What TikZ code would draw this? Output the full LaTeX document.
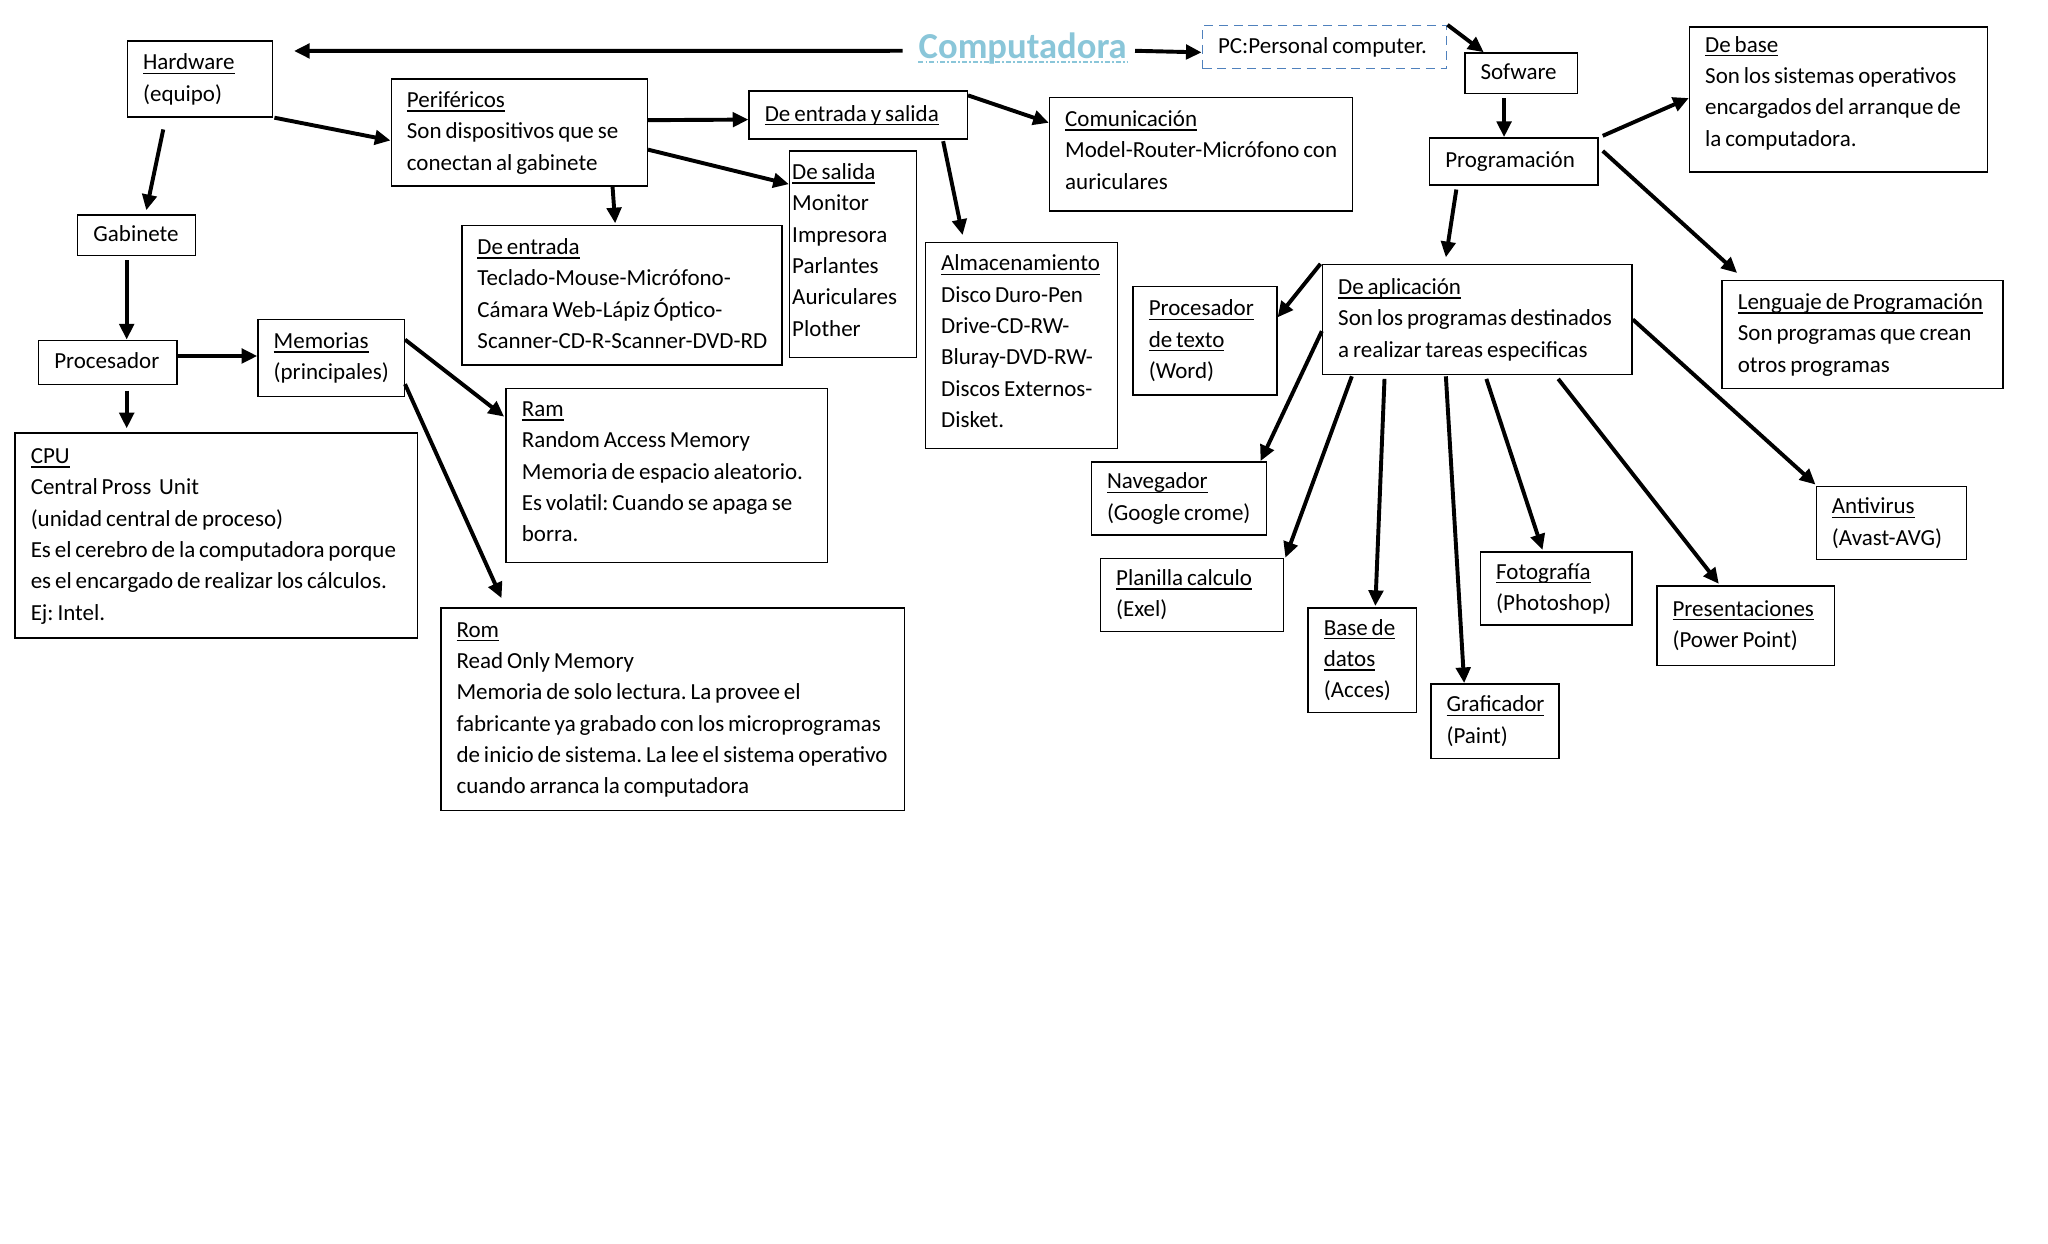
\documentclass[tikz,border=0pt]{standalone}
\usepackage{fontspec}
\setmainfont{Carlito}
\usetikzlibrary{arrows.meta}
\newcommand\UL[1]{\setbox0\hbox{#1}\rlap{\rule[-1.6bp]{\wd0}{0.5bp}}\box0}
\newcommand\fs{\fontsize{8.8bp}{12bp}\selectfont}
\newcommand\Tbl[1]{{\frenchspacing\spaceskip=1.5bp\relax\xspaceskip=1.5bp\relax\begin{tabular}{@{}l@{}}#1\end{tabular}}}
\definecolor{cmpcol}{HTML}{8AC6D9}
\definecolor{pccol}{HTML}{4F81BD}
\begin{document}
\begin{tikzpicture}[x=0.5bp,y=-0.5bp,
  box/.style={draw, line width=0.55bp, anchor=north west, inner xsep=6bp, inner ysep=0pt, align=flush left, font=\fs},
  arr/.style={line width=1.5bp, -{Triangle[length=6bp,width=5.5bp]}}]
\fill[white] (0,0) rectangle (1568,952);
\useasboundingbox (0,0) rectangle (1568,952);

% title
\node[font=\bfseries\fontsize{14bp}{16bp}\selectfont, text=cmpcol, inner sep=0pt, anchor=base] (cmp) at (783,44.5) {Computadora};
\draw[cmpcol, line width=0.9bp, dash pattern=on 2bp off 0.8bp on 0.6bp off 0.8bp] ([yshift=-1.4bp]cmp.base west) -- ([yshift=-1.4bp]cmp.base east);
\node[box, draw=pccol, dash pattern=on 3.5bp off 2.2bp, line width=0.6bp, text width=81.5bp, minimum height=16.5bp] (pc) at (920,19) {\Tbl{PC:Personal computer.}};

% hardware side
\node[box, text width=43.5bp, minimum height=29bp] (hw) at (97,31) {\Tbl{\UL{Hardware}\\(equipo)}};
\node[box, text width=86bp, minimum height=41bp] (per) at (299,60) {\Tbl{\UL{Periféricos}\\Son dispositivos que se\\conectan al gabinete}};
\node[box, text width=71.5bp, minimum height=18.5bp] (des) at (573,69) {\Tbl{\UL{De entrada y salida}}};
\node[box, text width=104bp, minimum height=43.5bp] (com) at (803,74) {\Tbl{\UL{Comunicación}\\Model-Router-Micrófono con\\auriculares\\[2bp]}};
\node[box, inner xsep=1bp, text width=46.5bp, minimum height=79bp] (sal) at (604,115) {\Tbl{\UL{De salida}\\Monitor\\Impresora\\Parlantes\\Auriculares\\Plother\\[2bp]}};
\node[box, text width=110.5bp, minimum height=53.5bp] (ent) at (353,172) {\Tbl{\UL{De entrada}\\Teclado-Mouse-Micrófono-\\Cámara Web-Lápiz Óptico-\\Scanner-CD-R-Scanner-DVD-RD}};
\node[box, text width=61.5bp, minimum height=79bp] (alm) at (708,185) {\Tbl{\UL{Almacenamiento}\\Disco Duro-Pen\\Drive-CD-RW-\\Bluray-DVD-RW-\\Discos Externos-\\Disket.\\[2bp]}};
\node[box, text width=33bp, minimum height=15.5bp] (gab) at (59,164) {\Tbl{Gabinete}};
\node[box, text width=41bp, minimum height=17bp] (pro) at (29,260) {\Tbl{Procesador}};
\node[box, text width=44bp, minimum height=29.5bp] (mem) at (197,244) {\Tbl{\UL{Memorias}\\(principales)}};
\node[box, text width=142bp, minimum height=78.5bp] (cpu) at (11,331) {\Tbl{\UL{CPU}\\Central Pross\hspace{3bp}Unit\\(unidad central de proceso)\\Es el cerebro de la computadora porque\\es el encargado de realizar los cálculos.\\Ej: Intel.}};
\node[box, text width=111bp, minimum height=66.5bp] (ram) at (387,297) {\Tbl{\UL{Ram}\\Random Access Memory\\Memoria de espacio aleatorio.\\Es volatil: Cuando se apaga se\\borra.\\[2bp]}};
\node[box, text width=165.5bp, minimum height=77.5bp] (rom) at (337,465) {\Tbl{\UL{Rom}\\Read Only Memory\\Memoria de solo lectura. La provee el\\fabricante ya grabado con los microprogramas\\de inicio de sistema. La lee el sistema operativo\\cuando arranca la computadora}};

% software side
\node[box, text width=31bp, minimum height=15.5bp] (sof) at (1121,40) {\Tbl{Sofware}};
\node[box, text width=52.5bp, minimum height=18bp] (prog) at (1094,105) {\Tbl{Programación}};
\node[box, text width=102bp, minimum height=55.5bp] (base) at (1293,20) {\Tbl{\UL{De base}\\Son los sistemas operativos\\encargados del arranque de\\la computadora.\\[5bp]}};
\node[box, text width=106.5bp, minimum height=42bp] (apl) at (1012,202) {\Tbl{\UL{De aplicación}\\Son los programas destinados\\a realizar tareas especificas}};
\node[box, text width=95.5bp, minimum height=41.5bp] (len) at (1318,214) {\Tbl{\UL{Lenguaje de Programación}\\Son programas que crean\\otros programas}};
\node[box, text width=43bp, minimum height=41.5bp] (ptx) at (867,219) {\Tbl{\UL{Procesador}\\\UL{de texto}\\(Word)}};
\node[box, text width=55bp, minimum height=28bp] (nav) at (835,353) {\Tbl{\UL{Navegador}\\(Google crome)}};
\node[box, text width=58bp, minimum height=28bp] (pla) at (842,427) {\Tbl{\UL{Planilla calculo}\\(Exel)}};
\node[box, text width=29.5bp, minimum height=40bp] (bdd) at (1001,465) {\Tbl{\UL{Base de}\\\UL{datos}\\(Acces)}};
\node[box, text width=37bp, minimum height=28.5bp] (gra) at (1095,523) {\Tbl{\UL{Graficador}\\(Paint)}};
\node[box, text width=46bp, minimum height=28bp] (fot) at (1133,422) {\Tbl{\UL{Fotografía}\\(Photoshop)}};
\node[box, text width=56bp, minimum height=30.5bp] (prs) at (1268,448) {\Tbl{\UL{Presentaciones}\\(Power Point)}};
\node[box, text width=45.5bp, minimum height=28bp] (ant) at (1390,372) {\Tbl{\UL{Antivirus}\\(Avast-AVG)}};

% connectors
\draw[arr] ([shift={(-12,2)}]cmp.west) -- ([shift={(16,8)}]hw.north east);
\draw[arr] ([shift={(6,2)}]cmp.east) -- ([shift={(0,4)}]pc.west);
\draw[arr] (pc.north east) -- ([shift={(15,0)}]sof.north west);
\draw[arr] ([shift={(-13,3)}]sof.south) -- ([shift={(-13,0)}]sof.south |- prog.north);
\draw[arr] ([shift={(3,-1)}]prog.north east) -- ([shift={(0,-1)}]base.west);
\draw[arr] ([shift={(3,-8)}]prog.east) -- ([shift={(12,-5)}]len.north west);
\draw[arr] ([shift={(21,3)}]prog.south west) -- ([shift={(95,-5)}]apl.north west);
\draw[arr] ([shift={(-1,0)}]apl.north west) -- ([shift={(0,24)}]ptx.north east);
\draw[arr] ([shift={(0,9)}]apl.west) -- ([shift={(-5,0)}]nav.north east);
\draw[arr] ([shift={(23,1)}]apl.south west) -- ([shift={(1,0)}]pla.north east);
\draw[arr] ([shift={(48,3)}]apl.south west) -- ([shift={(52,-1)}]bdd.north west);
\draw[arr] ([shift={(95,1)}]apl.south west) -- ([shift={(26,0)}]gra.north west);
\draw[arr] ([shift={(126,3)}]apl.south west) -- ([shift={(48,-1)}]fot.north west);
\draw[arr] ([shift={(181,3)}]apl.south west) -- ([shift={(48,-1)}]prs.north west);
\draw[arr] (apl.east) -- ([shift={(0,-1)}]ant.north west);

\draw[arr] ([shift={(1,0)}]hw.south east) -- ([shift={(0,6)}]per.west);
\draw[arr] ([shift={(28,9)}]hw.south west) -- ([shift={(53,-3)}]gab.north west);
\draw[arr] ([shift={(38,3)}]gab.south west) -- ([shift={(68,0)}]pro.north west);
\draw[arr] ([shift={(0,-5)}]pro.east) -- ([shift={(0,-5)}]pro.east -| mem.west);
\draw[arr] ([shift={(68,4)}]pro.south west) -- ([shift={(86,-3)}]cpu.north west);
\draw[arr] ([shift={(0,16)}]mem.north east) -- ([shift={(-1,22)}]ram.north west);
\draw[arr] ([shift={(0,-10)}]mem.south east) -- ([shift={(47,-7)}]rom.north west);
\draw[arr] ([shift={(0,32)}]per.north east) -- ([shift={(0,3.5)}]des.west);
\draw[arr] ([shift={(0,13)}]per.east) -- ([shift={(0,26)}]sal.north west);
\draw[arr] ([shift={(170,0)}]per.south west) -- ([shift={(118,-1)}]ent.north west);
\draw[arr] ([shift={(0,4)}]des.north east) -- ([shift={(0,20)}]com.north west);
\draw[arr] ([shift={(-19,1)}]des.south east) -- ([shift={(29,-5)}]alm.north west);
\end{tikzpicture}
\end{document}
